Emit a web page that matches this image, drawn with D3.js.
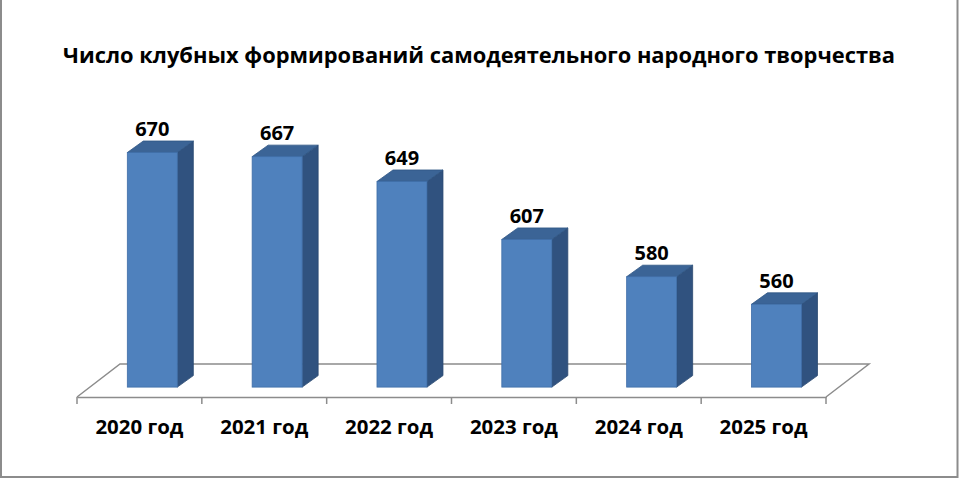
<!DOCTYPE html>
<html><head><meta charset="utf-8">
<script src="https://cdn.jsdelivr.net/npm/d3@7/dist/d3.min.js"></script>
<style>html,body{margin:0;padding:0;background:#fff;}svg{display:block;}</style>
</head><body>
<script>
const title = "Число клубных формирований самодеятельного народного творчества";
const categories = ["2020 год","2021 год","2022 год","2023 год","2024 год","2025 год"];
const values = [670, 667, 649, 607, 580, 560];
const yDomain = [500, 700];

const W = 960, H = 480;
const svg = d3.select("body").append("svg").attr("width", W).attr("height", H);
svg.append("rect").attr("x",0).attr("y",0).attr("width",W).attr("height",H).attr("fill","#fff");

// frame
svg.append("rect").attr("x",1).attr("y",-2).attr("width",956.5).attr("height",479)
  .attr("fill","none").attr("stroke","#8c8c8c").attr("stroke-width",2);

const font = "'Open Sans', sans-serif";
svg.append("text").attr("x",479).attr("y",63).attr("text-anchor","middle")
  .attr("font-family",font).attr("font-weight","bold").attr("font-size",22)
  .attr("textLength",832).attr("lengthAdjust","spacingAndGlyphs")
  .attr("fill","#000").text(title);

// floor geometry
const x0 = 77, x1 = 826, floorY = 397;
const fdx = 43, fdy = -33;        // floor depth
const bdx = 16, bdy = -11.5;      // bar depth
const pos = 0.3;                  // bar front position in floor depth

const x = d3.scaleBand().domain(categories).range([x0, x1]).paddingInner(0).paddingOuter(0);
const h = d3.scaleLinear().domain(yDomain).range([0, 276]);
const barW = 50;

const g = svg.append("g");
g.append("path")
  .attr("d", `M${x0},${floorY}L${x0+fdx},${floorY+fdy}L${x1+fdx},${floorY+fdy}L${x1},${floorY}`)
  .attr("fill","none").attr("stroke","#8c8c8c").attr("stroke-width",1.5);

// axis front edge with ticks
const axis = d3.axisBottom(x).tickSize(0).tickFormat("");
const ag = g.append("g").attr("transform",`translate(0,${floorY})`).call(axis);
ag.select(".domain").attr("stroke","#8c8c8c").attr("stroke-width",1.5);
const tickPos = categories.map(c => x(c)).concat([x1]);
g.selectAll("line.tk").data(tickPos).join("line").attr("class","tk")
  .attr("x1",d=>d).attr("x2",d=>d).attr("y1",floorY).attr("y2",floorY+7)
  .attr("stroke","#8c8c8c").attr("stroke-width",1.5);

g.selectAll("text.cat").data(categories).join("text").attr("class","cat")
  .attr("x", d => x(d) + x.bandwidth()/2).attr("y", 434)
  .attr("text-anchor","middle").attr("font-family",font).attr("font-weight","bold")
  .attr("font-size",20).attr("textLength",88).attr("lengthAdjust","spacingAndGlyphs")
  .attr("fill","#000").text(d=>d);

// bars
const bars = g.selectAll("g.bar").data(values.map((v,i)=>({v, c:categories[i]}))).join("g").attr("class","bar");
bars.each(function(d){
  const gg = d3.select(this);
  const cx = x(d.c) + x.bandwidth()/2 + fdx*pos;
  const by = floorY + fdy*pos;
  const L = cx - barW/2, R = cx + barW/2;
  const T = by - h(d.v);
  // side
  gg.append("path").attr("d",`M${R},${by}L${R+bdx},${by+bdy}L${R+bdx},${T+bdy}L${R},${T}Z`)
    .attr("fill","#30527f").attr("stroke","#2a4970").attr("stroke-width",0.8);
  // top
  gg.append("path").attr("d",`M${L},${T}L${L+bdx},${T+bdy}L${R+bdx},${T+bdy}L${R},${T}Z`)
    .attr("fill","#3b6496").attr("stroke","#2f5584").attr("stroke-width",0.8);
  // front
  gg.append("rect").attr("x",L).attr("y",T).attr("width",barW).attr("height",by-T)
    .attr("fill","#4f81bd").attr("stroke","#3f6ea8").attr("stroke-width",0.8);
  gg.append("text").attr("x",cx).attr("y",T+bdy-5).attr("text-anchor","middle")
    .attr("font-family",font).attr("font-weight","bold").attr("font-size",20)
    .attr("fill","#000").text(d.v);
});
</script>
</body></html>
